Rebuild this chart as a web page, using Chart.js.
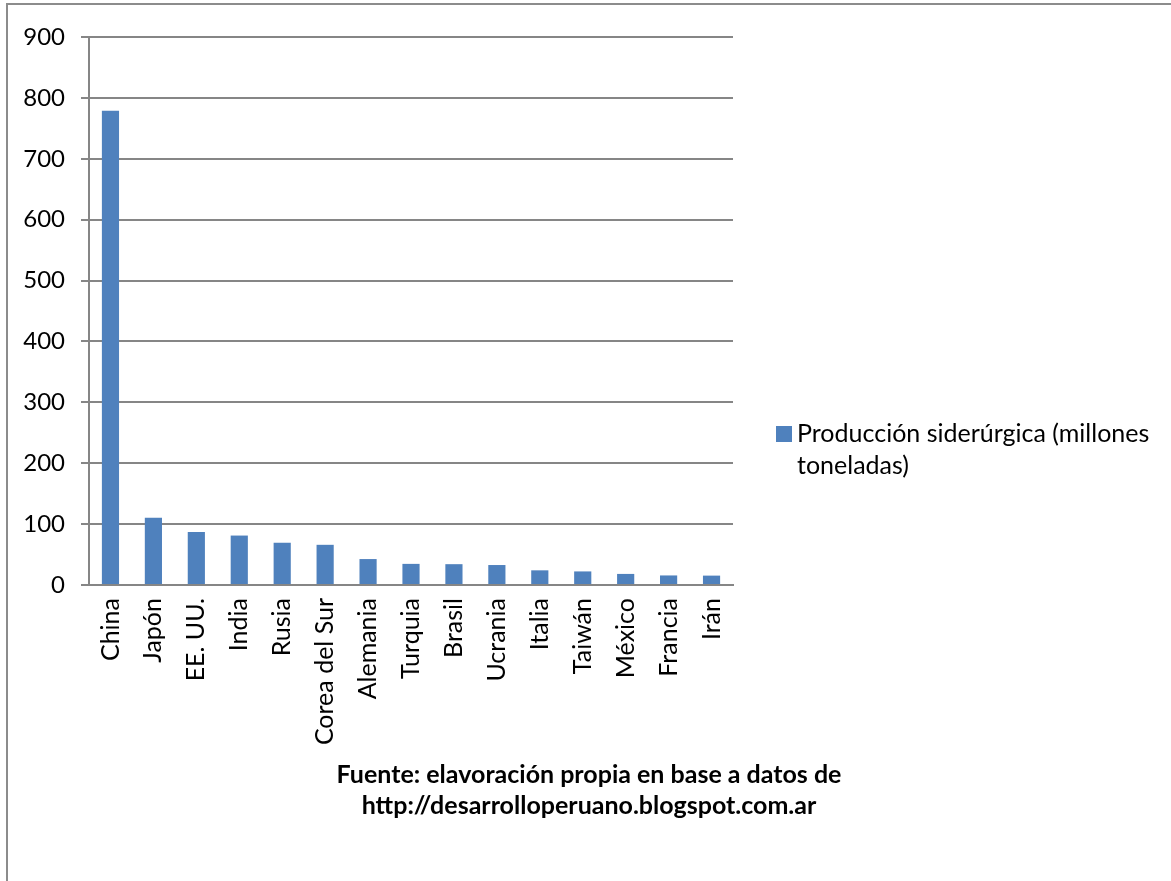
<!DOCTYPE html>
<html>
<head>
<meta charset="utf-8">
<script src="https://cdn.jsdelivr.net/npm/chart.js@4"></script>
<style>
    body { margin: 0; background: #fff; overflow: hidden; }
    #frame {
        position: absolute; left: 6px; top: 3px;
        width: 1300px; height: 1000px;
        border-left: 2px solid #8c8c8c; border-top: 2px solid #8c8c8c;
    }
    #steelChart { position: absolute; left: 0; top: 0; }
</style>
</head>
<body>
<div id="frame"></div>
<canvas id="steelChart" width="1171" height="881"></canvas>
<script>
const countries = ['China', 'Japón', 'EE. UU.', 'India', 'Rusia', 'Corea del Sur', 'Alemania',
    'Turquia', 'Brasil', 'Ucrania', 'Italia', 'Taiwán', 'México', 'Francia', 'Irán'];
const production = [779, 110.6, 87, 81.2, 69.4, 66, 42.6, 34.7, 34.2, 32.8, 24.1, 22.3, 18.2, 15.7, 15.4];
const seriesName = 'Producción siderúrgica (millones toneladas)';
const sourceLines = ['Fuente: elavoración propia en base a datos de',
    'http://desarrolloperuano.blogspot.com.ar'];

const fontFamily = 'Lato, "Open Sans", sans-serif';
const gridGray = '#868686';

// legend + source note drawn by hand so the legend can wrap
const notesPlugin = {
    id: 'notes',
    afterDraw(chart) {
        const ctx = chart.ctx;
        const ds = chart.data.datasets[0];
        ctx.save();
        ctx.fillStyle = ds.backgroundColor;
        ctx.fillRect(776, 426, 16, 16);
        ctx.fillStyle = '#000';
        ctx.font = '25px ' + fontFamily;
        ctx.textBaseline = 'middle';
        ctx.textAlign = 'left';
        const words = ds.label.split(' ');
        ctx.fillText(words.slice(0, 3).join(' '), 797, 434);
        ctx.fillText(words.slice(3).join(' '), 797, 466);

        ctx.font = 'bold 25px ' + fontFamily;
        ctx.textAlign = 'center';
        ctx.fillText(sourceLines[0], 589, 775);
        ctx.fillText(sourceLines[1], 589, 806);
        ctx.restore();
    }
};

new Chart(document.getElementById('steelChart'), {
    type: 'bar',
    data: {
        labels: countries,
        datasets: [{
            label: seriesName,
            data: production,
            backgroundColor: '#4f81bd',
            borderWidth: 0,
            categoryPercentage: 1,
            barPercentage: 0.4
        }]
    },
    options: {
        responsive: false,
        animation: false,
        devicePixelRatio: 1,
        layout: { padding: { top: 37, right: 438, bottom: 131, left: 0 } },
        plugins: {
            legend: { display: false },
            tooltip: { enabled: false }
        },
        scales: {
            y: {
                min: 0,
                max: 900,
                afterFit: scale => { scale.width = 89; },
                ticks: {
                    stepSize: 100,
                    padding: 16,
                    color: '#000',
                    font: { family: fontFamily, size: 24 }
                },
                grid: { color: gridGray, lineWidth: 2, tickLength: 8 },
                border: { color: gridGray, width: 2 }
            },
            x: {
                afterFit: scale => { scale.height = 165; },
                ticks: {
                    minRotation: 90,
                    maxRotation: 90,
                    padding: 13,
                    color: '#000',
                    font: { family: fontFamily, size: 25 }
                },
                grid: { display: false, drawTicks: false },
                border: { display: true, color: gridGray, width: 2 }
            }
        }
    },
    plugins: [notesPlugin]
});
</script>
</body>
</html>
